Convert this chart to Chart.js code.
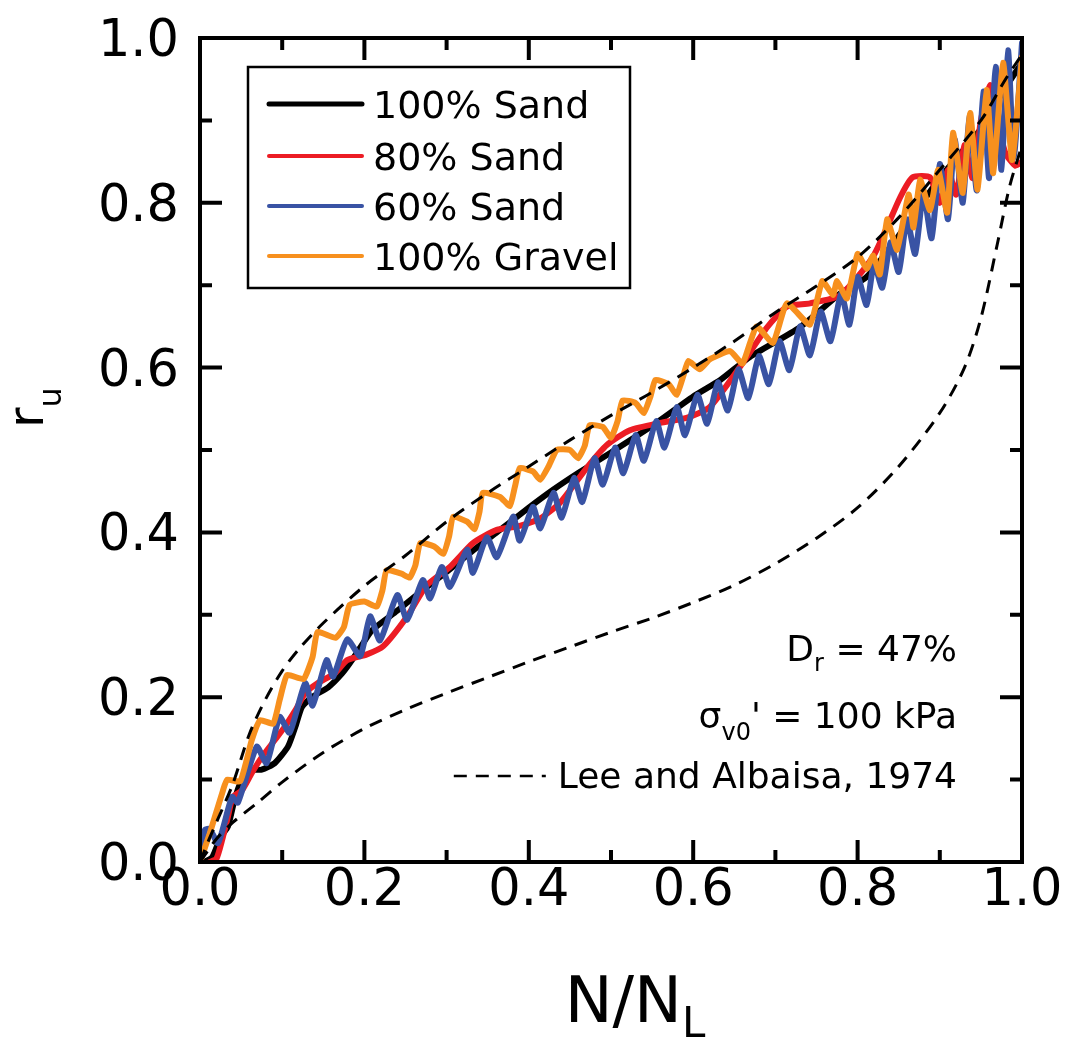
<!DOCTYPE html>
<html>
<head>
<meta charset="utf-8">
<script src="https://cdn.jsdelivr.net/npm/chart.js@4.4.1/dist/chart.umd.min.js"></script>
<style>
  html, body { margin: 0; padding: 0; background: #fff; }
  #wrap { width: 1081px; height: 1043px; position: relative; }
</style>
</head>
<body>
<div id="wrap"><canvas id="chart"></canvas></div>
<script>
// r_u vs N/N_L — 100% sand / 80% / 60% / gravel, with Lee & Albaisa (1974) band

// ─── DATA ─────────────────────────────────────────────────────────────────────
const seriesNames = ['100% Sand', '80% Sand', '60% Sand', '100% Gravel'];

const sand100 = [
  [0.005,0],[0.015,0.006],[0.025,0.03],[0.034,0.043],[0.043,0.079],[0.055,0.108],
  [0.065,0.112],[0.075,0.112],[0.091,0.12],[0.107,0.14],[0.116,0.164],[0.124,0.188],
  [0.136,0.2],[0.156,0.212],[0.173,0.229],[0.185,0.245],[0.2,0.268],[0.21,0.282],
  [0.24,0.305],[0.271,0.33],[0.3,0.352],[0.332,0.378],[0.365,0.403],[0.4,0.43],
  [0.43,0.452],[0.46,0.472],[0.5,0.497],[0.551,0.53],[0.6,0.565],[0.633,0.585],
  [0.669,0.613],[0.73,0.649],[0.779,0.69],[0.811,0.71],[0.85,0.76],[0.9,0.83],
  [0.95,0.89],[0.98,0.94],[1.0,0.97]
];

const sand80 = [
  [0.012,0],[0.02,0.004],[0.027,0.027],[0.034,0.055],[0.04,0.079],[0.051,0.087],
  [0.063,0.108],[0.075,0.127],[0.091,0.148],[0.103,0.164],[0.116,0.184],[0.128,0.205],
  [0.143,0.217],[0.164,0.229],[0.179,0.245],[0.203,0.252],[0.223,0.262],[0.252,0.298],
  [0.276,0.336],[0.304,0.358],[0.332,0.387],[0.361,0.403],[0.389,0.408],[0.414,0.417],
  [0.438,0.436],[0.471,0.479],[0.495,0.506],[0.523,0.524],[0.56,0.533],[0.592,0.539],
  [0.62,0.552],[0.657,0.601],[0.69,0.649],[0.714,0.674],[0.742,0.678],[0.779,0.688],
  [0.819,0.735],[0.852,0.807],[0.867,0.831],[0.888,0.831],[0.9,0.8],[0.91,0.84],
  [0.92,0.81],[0.93,0.87],[0.94,0.83],[0.95,0.9],[0.961,0.943],[0.97,0.9],
  [0.98,0.86],[0.992,0.845],[1.0,0.85]
];

const sand60 = [
  [0,0.005],[0.006,0.039],[0.012,0.04],[0.022,0.023],[0.039,0.079],[0.046,0.072],
  [0.069,0.14],[0.081,0.12],[0.097,0.176],[0.109,0.157],[0.128,0.217],[0.137,0.19],
  [0.154,0.245],[0.162,0.225],[0.179,0.27],[0.195,0.25],[0.207,0.298],[0.219,0.269],
  [0.24,0.324],[0.252,0.294],[0.271,0.342],[0.28,0.32],[0.294,0.358],[0.304,0.334],
  [0.325,0.379],[0.332,0.351],[0.349,0.394],[0.361,0.37],[0.381,0.419],[0.389,0.39],
  [0.405,0.431],[0.414,0.405],[0.43,0.448],[0.44,0.418],[0.455,0.466],[0.465,0.437],
  [0.48,0.49],[0.49,0.458],[0.505,0.503],[0.515,0.472],[0.53,0.518],[0.54,0.487],
  [0.555,0.535],[0.565,0.503],[0.58,0.552],[0.59,0.518],[0.605,0.567],[0.617,0.532],
  [0.63,0.582],[0.642,0.548],[0.655,0.598],[0.667,0.563],[0.68,0.614],[0.692,0.58],
  [0.705,0.632],[0.717,0.597],[0.73,0.65],[0.742,0.615],[0.755,0.668],[0.767,0.632],
  [0.78,0.69],[0.79,0.652],[0.8,0.71],[0.811,0.676],[0.82,0.726],[0.83,0.697],
  [0.84,0.752],[0.85,0.716],[0.86,0.78],[0.87,0.738],[0.88,0.812],[0.89,0.757],
  [0.9,0.847],[0.91,0.78],[0.918,0.877],[0.928,0.8],[0.936,0.905],[0.945,0.815],
  [0.953,0.935],[0.96,0.83],[0.968,0.965],[0.975,0.84],[0.983,0.985],[0.99,0.855],
  [1.0,0.994]
];

const gravel100 = [
  [0,0],[0.012,0.035],[0.028,0.087],[0.033,0.1],[0.049,0.098],[0.063,0.148],
  [0.073,0.172],[0.089,0.168],[0.097,0.197],[0.106,0.227],[0.126,0.222],[0.137,0.249],
  [0.143,0.279],[0.165,0.272],[0.175,0.285],[0.182,0.312],[0.2,0.316],[0.215,0.31],
  [0.222,0.33],[0.227,0.354],[0.245,0.35],[0.255,0.345],[0.262,0.36],[0.268,0.387],
  [0.285,0.383],[0.296,0.374],[0.303,0.395],[0.308,0.419],[0.325,0.413],[0.334,0.404],
  [0.34,0.425],[0.344,0.448],[0.365,0.443],[0.377,0.432],[0.383,0.455],[0.389,0.478],
  [0.405,0.474],[0.414,0.464],[0.424,0.48],[0.434,0.5],[0.45,0.5],[0.46,0.49],
  [0.468,0.505],[0.474,0.53],[0.49,0.528],[0.5,0.515],[0.508,0.535],[0.514,0.56],
  [0.53,0.557],[0.54,0.545],[0.548,0.565],[0.554,0.585],[0.57,0.58],[0.58,0.567],
  [0.588,0.59],[0.594,0.608],[0.608,0.598],[0.62,0.61],[0.645,0.62],[0.66,0.605],
  [0.677,0.65],[0.697,0.63],[0.714,0.678],[0.742,0.652],[0.757,0.705],[0.77,0.688],
  [0.775,0.705],[0.787,0.684],[0.8,0.738],[0.811,0.72],[0.819,0.736],[0.827,0.713],
  [0.836,0.78],[0.848,0.743],[0.862,0.81],[0.868,0.77],[0.876,0.828],[0.888,0.791],
  [0.898,0.84],[0.909,0.788],[0.916,0.885],[0.928,0.812],[0.937,0.909],[0.946,0.816],
  [0.957,0.937],[0.965,0.836],[0.977,0.97],[0.988,0.852],[1.0,0.977]
];

// Lee and Albaisa (1974) bounds
const leeUpper = [
  [0,0],[0.01,0.025],[0.02,0.048],[0.04,0.095],[0.06,0.155],[0.08,0.198],[0.1,0.232],
  [0.12,0.258],[0.15,0.29],[0.2,0.335],[0.25,0.372],[0.3,0.413],[0.35,0.448],
  [0.4,0.48],[0.45,0.512],[0.5,0.542],[0.55,0.57],[0.6,0.6],[0.65,0.632],
  [0.7,0.667],[0.75,0.699],[0.8,0.734],[0.85,0.782],[0.9,0.84],[0.95,0.9],
  [0.98,0.95],[1.0,0.98]
];
const leeLower = [
  [0,0],[0.02,0.028],[0.04,0.048],[0.07,0.072],[0.1,0.097],[0.15,0.133],[0.2,0.162],
  [0.25,0.185],[0.3,0.205],[0.35,0.224],[0.4,0.243],[0.45,0.261],[0.5,0.279],
  [0.55,0.296],[0.6,0.315],[0.65,0.336],[0.7,0.362],[0.75,0.393],[0.8,0.43],
  [0.85,0.48],[0.9,0.545],[0.93,0.6],[0.95,0.66],[0.97,0.75],[0.985,0.82],[1.0,0.87]
];

const xTickValues = [0, 0.2, 0.4, 0.6, 0.8, 1.0];
const yTickValues = [0, 0.2, 0.4, 0.6, 0.8, 1.0];
const minorStep = 0.1;


// ─── STYLE ────────────────────────────────────────────────────────────────────
const FONT = '"DejaVu Sans", Verdana, sans-serif';
const colors = ['#000000', '#ec1c24', '#3953a4', '#f7901e'];

const toXY = arr => arr.map(p => ({ x: p[0], y: p[1] }));

function lineSet(label, data, color, order, extra) {
  return Object.assign({
    label,
    data: toXY(data),
    showLine: true,
    borderColor: color,
    backgroundColor: color,
    borderWidth: 6,
    pointRadius: 0,
    tension: 0.2,
    borderJoinStyle: 'round',
    borderCapStyle: 'round',
    order
  }, extra || {});
}

const dashed = { borderWidth: 3, borderDash: [13, 9], tension: 0.3, borderCapStyle: 'butt' };

const datasets = [
  lineSet('Lee upper', leeUpper, '#000', 0, dashed),
  lineSet('Lee lower', leeLower, '#000', 0, dashed),
  lineSet(seriesNames[3], gravel100, colors[3], 1, { tension: 0.15 }),
  lineSet(seriesNames[2], sand60, colors[2], 2),
  lineSet(seriesNames[1], sand80, colors[1], 3),
  lineSet(seriesNames[0], sand100, colors[0], 4)
];


// ─── DRAW HELPERS ─────────────────────────────────────────────────────────────
// parts: [text, size, dy]
function richWidth(ctx, parts) {
  let w = 0;
  for (const [t, size] of parts) {
    ctx.font = `${size}px ${FONT}`;
    w += ctx.measureText(t).width;
  }
  return w;
}
function drawRich(ctx, parts, x, y) {
  ctx.textAlign = 'left';
  ctx.textBaseline = 'alphabetic';
  for (const [t, size, dy] of parts) {
    ctx.font = `${size}px ${FONT}`;
    ctx.fillText(t, x, y + (dy || 0));
    x += ctx.measureText(t).width;
  }
}

const decorations = {
  id: 'decorations',
  afterDatasetsDraw(chart) {
    const { ctx, chartArea: a, scales: { x, y } } = chart;
    ctx.save();
    ctx.fillStyle = '#000';
    ctx.strokeStyle = '#000';

    // frame
    ctx.lineWidth = 4;
    ctx.strokeRect(a.left, a.top, a.right - a.left, a.bottom - a.top);

    // inward ticks on all four sides
    ctx.lineWidth = 4;
    ctx.lineCap = 'butt';
    for (let i = 1; i < 10; i++) {
      const v = i * minorStep;
      const major = i % 2 === 0;
      const len = major ? 22 : 12;
      const px = x.getPixelForValue(v);
      const py = y.getPixelForValue(v);
      ctx.beginPath();
      ctx.moveTo(px, a.bottom); ctx.lineTo(px, a.bottom - len);
      ctx.moveTo(px, a.top);    ctx.lineTo(px, a.top + len);
      ctx.moveTo(a.left, py);   ctx.lineTo(a.left + len, py);
      ctx.moveTo(a.right, py);  ctx.lineTo(a.right - len, py);
      ctx.stroke();
    }

    // tick labels
    ctx.font = `51px ${FONT}`;
    ctx.textBaseline = 'alphabetic';
    ctx.textAlign = 'center';
    xTickValues.forEach(v => ctx.fillText(v.toFixed(1), x.getPixelForValue(v), 905));
    ctx.textAlign = 'right';
    yTickValues.forEach(v => ctx.fillText(v.toFixed(1), 179, y.getPixelForValue(v) + 18));

    // legend
    ctx.lineWidth = 2.5;
    ctx.strokeRect(248, 67, 382, 221);
    const rowsY = [104, 156, 206, 256];
    [0, 1, 2, 3].forEach((k, i) => {
      ctx.strokeStyle = colors[k];
      ctx.lineWidth = k === 0 ? 5 : 4;
      ctx.lineCap = 'round';
      ctx.beginPath();
      ctx.moveTo(269, rowsY[i]);
      ctx.lineTo(362, rowsY[i]);
      ctx.stroke();
      ctx.fillStyle = '#000';
      ctx.font = `38px ${FONT}`;
      ctx.textAlign = 'left';
      ctx.textBaseline = 'alphabetic';
      ctx.fillText(seriesNames[k], 373, rowsY[i] + 14);
    });

    // annotations
    ctx.fillStyle = '#000';
    const right = 957;
    const dr = [['D', 36, 0], ['r', 24, 10], [' = 47%', 36, 0]];
    drawRich(ctx, dr, right - richWidth(ctx, dr), 661);
    const sig = [['σ', 36, 0], ['v0', 24, 12], ["' = 100 kPa", 36, 0]];
    drawRich(ctx, sig, right - richWidth(ctx, sig), 728);
    const lee = [['Lee and Albaisa, 1974', 36, 0]];
    const lw = richWidth(ctx, lee);
    drawRich(ctx, lee, right - lw, 788);
    ctx.strokeStyle = '#000';
    ctx.lineWidth = 2.5;
    ctx.lineCap = 'butt';
    ctx.setLineDash([13, 9]);
    ctx.beginPath();
    ctx.moveTo(right - lw - 104, 776);
    ctx.lineTo(right - lw - 12, 776);
    ctx.stroke();
    ctx.setLineDash([]);

    // axis titles
    const xt = [['N/N', 64, 0], ['L', 42, 15]];
    drawRich(ctx, xt, 635 - richWidth(ctx, xt) / 2, 1022);

    ctx.translate(43, 428);
    ctx.rotate(-Math.PI / 2);
    drawRich(ctx, [['r', 50, 0], ['u', 32, 18]], 0, 0);

    ctx.restore();
  }
};


// ─── CHART ────────────────────────────────────────────────────────────────────
new Chart(document.getElementById('chart'), {
  type: 'scatter',
  data: { datasets },
  options: {
    responsive: true,
    maintainAspectRatio: false,
    animation: false,
    layout: { padding: { top: 38, right: 59, left: 0, bottom: 0 } },
    plugins: {
      legend: { display: false },
      tooltip: { enabled: false }
    },
    scales: {
      x: {
        type: 'linear',
        min: 0, max: 1,
        afterFit: s => { s.height = 181; },
        grid: { display: false, drawTicks: false },
        border: { display: false },
        ticks: { display: false }
      },
      y: {
        type: 'linear',
        min: 0, max: 1,
        afterFit: s => { s.width = 200; },
        grid: { display: false, drawTicks: false },
        border: { display: false },
        ticks: { display: false }
      }
    }
  },
  plugins: [decorations]
});
</script>
</body>
</html>
